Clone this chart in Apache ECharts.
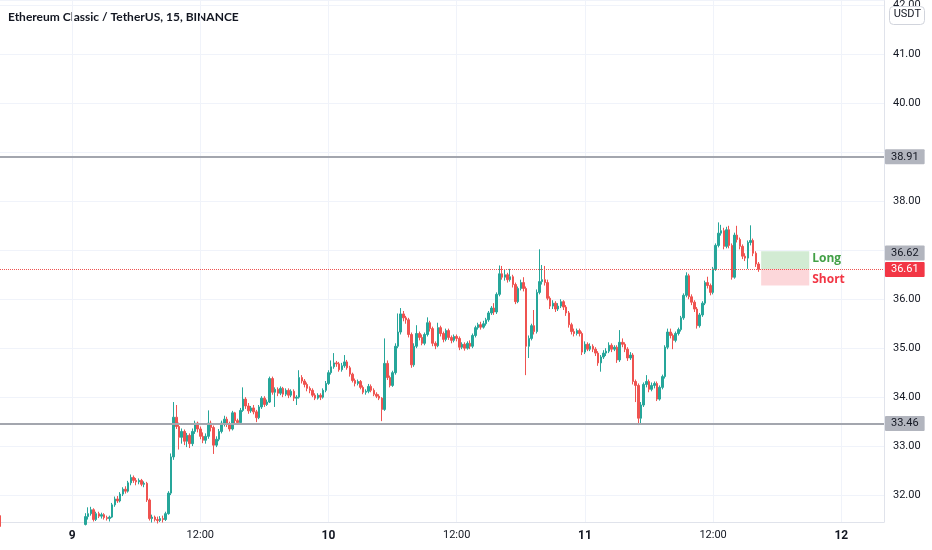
<!DOCTYPE html>
<html>
<head>
<meta charset="utf-8">
<title>ETC / USDT 15</title>
<script src="https://cdn.jsdelivr.net/npm/echarts@6/dist/echarts.min.js"></script>
<style>
  html, body { margin: 0; padding: 0; background: #fff; }
  #chart { width: 932px; height: 550px; }
</style>
</head>
<body>
<div id="chart"></div>
<script>
// 15 分钟K线，从 8 日 17:15 开始
const startDay = 8;
const startMinute = 17 * 60 + 15;
const slotCount = 332; // 右侧留空到 12 日 04:00

// [open, close, low, high]
const candles = [
  [31.58,31.36,31.30,31.60],[31.36,31.30,31.25,31.40],[31.30,31.33,31.26,31.38],[31.33,31.27,31.22,31.36],
  [31.27,31.22,31.18,31.31],[31.22,31.25,31.17,31.29],[31.25,31.19,31.14,31.28],[31.19,31.14,31.10,31.22],
  [31.14,31.18,31.11,31.22],[31.18,31.12,31.08,31.21],[31.12,31.08,31.03,31.16],[31.08,31.13,31.05,31.17],
  [31.13,31.17,31.10,31.21],[31.17,31.11,31.08,31.20],[31.11,31.15,31.07,31.19],[31.15,31.20,31.12,31.24],
  [31.20,31.16,31.13,31.25],[31.16,31.21,31.14,31.26],[31.21,31.26,31.18,31.30],[31.26,31.22,31.19,31.31],
  [31.22,31.18,31.14,31.26],[31.18,31.23,31.16,31.27],[31.23,31.28,31.20,31.33],[31.28,31.25,31.21,31.32],
  [31.25,31.30,31.22,31.35],[31.30,31.27,31.23,31.34],[31.27,31.32,31.25,31.37],[31.32,31.29,31.26,31.36],
  [31.29,31.34,31.27,31.39],[31.34,31.31,31.28,31.38],[31.31,31.36,31.29,31.41],[31.36,31.40,31.33,31.44],
  [31.40,31.56,31.38,31.63],[31.56,31.62,31.50,31.75],[31.62,31.70,31.58,31.76],[31.70,31.50,31.46,31.73],
  [31.50,31.62,31.47,31.66],[31.62,31.57,31.53,31.66],[31.57,31.60,31.52,31.64],[31.60,31.54,31.50,31.63],
  [31.54,31.52,31.48,31.58],[31.52,31.55,31.46,31.58],[31.55,31.80,31.53,31.84],[31.80,31.92,31.76,31.97],
  [31.92,31.88,31.84,31.98],[31.88,32.02,31.85,32.06],[32.02,32.12,31.98,32.16],[32.12,32.08,32.03,32.18],
  [32.08,32.25,32.05,32.29],[32.25,32.36,32.20,32.42],[32.36,32.30,32.25,32.40],[32.30,32.27,32.20,32.35],
  [32.27,32.30,32.22,32.34],[32.30,32.22,32.18,32.33],[32.22,32.24,32.16,32.28],[32.24,31.90,31.86,32.27],
  [31.90,31.52,31.48,31.93],[31.52,31.55,31.44,31.60],[31.55,31.50,31.46,31.58],[31.50,31.48,31.42,31.56],
  [31.48,31.52,31.45,31.57],[31.52,31.50,31.44,31.58],[31.50,31.62,31.47,31.66],[31.62,32.04,31.60,32.08],
  [32.04,32.78,32.00,32.85],[32.78,33.59,32.72,33.90],[33.59,33.40,33.35,33.84],[33.40,33.18,32.93,33.48],
  [33.18,33.30,33.05,33.36],[33.30,33.10,33.02,33.34],[33.10,33.22,32.98,33.27],[33.22,33.05,32.96,33.26],
  [33.05,33.30,33.00,33.36],[33.30,33.47,33.25,33.52],[33.47,33.35,33.28,33.50],[33.35,33.20,33.14,33.40],
  [33.20,33.12,33.06,33.28],[33.12,33.20,33.05,33.26],[33.20,33.47,33.15,33.73],[33.47,33.38,33.30,33.52],
  [33.38,33.02,32.84,33.42],[33.02,33.14,32.98,33.20],[33.14,33.30,33.10,33.35],[33.30,33.47,33.26,33.52],
  [33.47,33.55,33.40,33.62],[33.55,33.45,33.39,33.60],[33.45,33.35,33.30,33.50],[33.35,33.68,33.32,33.72],
  [33.68,33.52,33.46,33.70],[33.52,33.48,33.44,33.56],[33.48,33.73,33.45,33.78],[33.73,33.96,33.70,34.20],
  [33.96,33.82,33.76,34.00],[33.82,33.72,33.66,33.88],[33.72,33.78,33.68,33.82],[33.78,33.70,33.65,33.84],
  [33.70,33.58,33.49,33.74],[33.58,33.80,33.55,33.84],[33.80,33.98,33.76,34.02],[33.98,33.85,33.80,34.02],
  [33.85,33.90,33.82,33.95],[33.90,34.38,33.88,34.42],[34.38,34.10,34.05,34.42],[34.10,34.16,33.80,34.20],
  [34.16,34.08,34.02,34.20],[34.08,34.18,34.04,34.22],[34.18,34.06,34.00,34.21],[34.06,34.14,34.02,34.18],
  [34.14,34.04,33.98,34.18],[34.04,34.12,34.00,34.16],[34.12,33.98,33.92,34.16],[33.98,34.00,33.84,34.04],
  [34.00,34.40,33.97,34.55],[34.40,34.33,34.28,34.45],[34.33,34.26,34.20,34.37],[34.26,34.18,34.12,34.30],
  [34.18,34.14,34.08,34.22],[34.14,34.04,34.00,34.18],[34.04,33.98,33.94,34.08],[33.98,34.04,33.95,34.08],
  [34.04,34.00,33.94,34.08],[34.00,34.14,33.97,34.18],[34.14,34.28,34.10,34.33],[34.28,34.50,34.25,34.55],
  [34.50,34.62,34.46,34.75],[34.62,34.70,34.58,34.90],[34.70,34.68,34.62,34.74],[34.68,34.56,34.52,34.72],
  [34.56,34.64,34.52,34.70],[34.64,34.72,34.60,34.86],[34.72,34.60,34.56,34.76],[34.60,34.47,34.42,34.64],
  [34.47,34.34,34.30,34.50],[34.34,34.28,34.22,34.38],[34.28,34.32,34.24,34.36],[34.32,34.20,34.16,34.35],
  [34.20,34.10,34.06,34.24],[34.10,34.12,34.05,34.16],[34.12,34.22,34.08,34.27],[34.22,34.14,34.10,34.26],
  [34.14,34.06,34.02,34.18],[34.06,34.02,33.98,34.10],[34.02,33.98,33.94,34.06],[33.98,33.75,33.51,34.00],
  [33.75,34.69,33.72,35.20],[34.69,34.40,34.35,34.75],[34.40,34.24,34.20,34.44],[34.24,34.50,34.21,34.54],
  [34.50,35.04,34.46,35.10],[35.04,35.33,35.00,35.71],[35.33,35.70,35.28,35.82],[35.70,35.62,35.55,35.76],
  [35.62,35.58,35.50,35.66],[35.58,35.28,35.22,35.62],[35.28,34.66,34.60,35.32],[34.66,35.04,34.62,35.10],
  [35.04,35.30,35.00,35.47],[35.30,35.22,35.16,35.34],[35.22,35.10,35.06,35.28],[35.10,35.28,35.06,35.32],
  [35.28,35.52,35.24,35.63],[35.52,35.40,35.34,35.56],[35.40,35.10,35.04,35.44],[35.10,35.05,34.98,35.14],
  [35.05,35.42,35.02,35.52],[35.42,35.30,35.24,35.46],[35.30,35.18,35.12,35.34],[35.18,35.36,35.14,35.40],
  [35.36,35.22,35.17,35.40],[35.22,35.16,35.10,35.26],[35.16,35.24,35.12,35.28],[35.24,35.20,35.14,35.28],
  [35.20,35.02,34.96,35.24],[35.02,35.08,34.98,35.12],[35.08,35.00,34.95,35.12],[35.00,35.10,34.97,35.14],
  [35.10,35.04,34.98,35.16],[35.04,35.26,35.00,35.30],[35.26,35.42,35.22,35.46],[35.42,35.48,35.38,35.52],
  [35.48,35.43,35.38,35.54],[35.43,35.50,35.40,35.56],[35.50,35.58,35.46,35.62],[35.58,35.72,35.54,35.76],
  [35.72,35.82,35.68,35.86],[35.82,35.74,35.68,35.92],[35.74,36.10,35.70,36.14],[36.10,36.52,36.06,36.69],
  [36.52,36.45,36.40,36.68],[36.45,36.50,36.38,36.60],[36.50,36.40,36.34,36.54],[36.40,36.46,36.36,36.62],
  [36.46,36.30,36.24,36.50],[36.30,35.95,35.90,36.34],[35.95,36.22,35.92,36.26],[36.22,36.34,36.18,36.40],
  [36.34,36.22,36.16,36.45],[36.22,35.04,34.45,36.26],[35.04,35.20,34.80,35.26],[35.20,35.46,35.16,35.50],
  [35.46,35.34,35.28,35.78],[35.34,36.14,35.30,36.20],[36.14,36.36,36.10,37.02],[36.36,36.40,36.30,36.70],
  [36.40,36.34,36.28,36.68],[36.34,36.02,35.98,36.40],[36.02,35.86,35.80,36.06],[35.86,35.92,35.80,35.98],
  [35.92,35.80,35.74,35.96],[35.80,35.86,35.76,35.92],[35.86,35.95,35.82,36.00],[35.95,35.84,35.78,35.98],
  [35.84,35.72,35.66,35.88],[35.72,35.48,35.42,35.76],[35.48,35.34,35.28,35.52],[35.34,35.30,35.24,35.40],
  [35.30,35.36,35.26,35.40],[35.36,35.30,35.24,35.40],[35.30,34.92,34.86,35.34],[34.92,35.08,34.88,35.14],
  [35.08,34.98,34.94,35.12],[34.98,35.04,34.94,35.10],[35.04,34.98,34.92,35.08],[34.98,34.90,34.84,35.02],
  [34.90,34.70,34.64,34.94],[34.70,34.82,34.52,34.86],[34.82,34.90,34.78,34.96],[34.90,34.94,34.84,35.00],
  [34.94,35.06,34.90,35.12],[35.06,34.98,34.92,35.10],[34.98,35.02,34.94,35.06],[35.02,34.76,34.70,35.06],
  [34.76,35.12,34.72,35.37],[35.12,35.08,35.02,35.20],[35.08,34.98,34.92,35.12],[34.98,34.80,34.74,35.02],
  [34.80,34.86,34.76,34.92],[34.86,34.32,34.26,34.90],[34.32,34.24,33.90,34.36],[34.24,33.57,33.43,34.28],
  [33.57,33.84,33.46,33.90],[33.84,34.26,33.80,34.30],[34.26,34.32,34.20,34.45],[34.32,34.16,34.10,34.36],
  [34.16,34.24,34.12,34.30],[34.24,34.28,34.18,34.32],[34.28,33.96,33.92,34.32],[33.96,34.20,33.93,34.24],
  [34.20,34.42,34.16,34.46],[34.42,35.02,34.38,35.06],[35.02,35.33,34.98,35.40],[35.33,35.26,35.20,35.40],
  [35.26,35.16,34.98,35.30],[35.16,35.30,35.12,35.34],[35.30,35.38,35.26,35.42],[35.38,35.62,35.34,35.66],
  [35.62,36.08,35.58,36.12],[36.08,36.48,36.04,36.55],[36.48,36.05,36.00,36.52],[36.05,35.94,35.88,36.10],
  [35.94,35.80,35.74,35.98],[35.80,35.46,35.40,35.84],[35.46,35.68,35.42,35.72],[35.68,35.92,35.64,35.96],
  [35.92,36.34,35.88,36.38],[36.34,36.28,36.22,36.46],[36.28,36.14,36.08,36.32],[36.14,36.62,36.10,36.66],
  [36.62,37.10,36.58,37.14],[37.10,37.35,37.06,37.57],[37.35,37.40,37.30,37.52],[37.40,37.08,37.02,37.46],
  [37.08,37.42,37.04,37.48],[37.42,37.10,37.04,37.50],[37.10,36.45,36.40,37.14],[36.45,37.31,36.42,37.36],
  [37.31,37.22,37.16,37.50],[37.22,37.08,37.02,37.26],[37.08,36.88,36.82,37.12],[36.88,36.84,36.78,36.94],
  [36.84,37.16,36.62,37.20],[37.16,37.20,37.10,37.51],[37.20,36.94,36.88,37.24],[36.94,36.72,36.66,36.98],
  [36.72,36.61,36.56,36.76]
];

// 水平线与右侧价格标签
const supportLevels = [38.91, 33.46];
const lastPrice = 36.61;
const entryPrice = 36.62;
const longTarget = 36.98;
const shortTarget = 36.28;
const positionSlots = [285, 303]; // 多空框的起止K线位置

// y 轴范围和刻度
const yMin = 31.45;
const yMax = 42.10;
const hiddenTicks = [37, 39];

const UP = '#26a69a';
const DOWN = '#ef5350';
const TEXT = '#131722';
const GRID = '#f0f3fa';
const FONT = 'Roboto, "Liberation Sans", sans-serif';

function pad(n) {
  return String(n).padStart(2, '0');
}

// 生成时间分类
const times = [];
for (let i = 0; i < slotCount; i++) {
  const total = startMinute + i * 15;
  const day = startDay + Math.floor(total / 1440);
  const m = total % 1440;
  times.push(day + ' ' + pad(Math.floor(m / 60)) + ':' + pad(m % 60));
}

function isMajor(index, value) {
  return value.endsWith(' 00:00') || value.endsWith(' 12:00');
}

function badge(value, bg, color, dy) {
  return {
    show: true,
    position: 'end',
    distance: 1,
    offset: [0, dy || 0],
    formatter: value.toFixed(2),
    backgroundColor: bg,
    color: color,
    fontSize: 11,
    fontFamily: FONT,
    padding: [2, 6, 2, 6],
    borderRadius: 1
  };
}

const chart = echarts.init(document.getElementById('chart'), null, { renderer: 'canvas' });

// 入场价只有标签，往上错开一格（先画，避免被压住）
const markLines = [{
  yAxis: entryPrice,
  lineStyle: { color: 'rgba(255,255,255,0)', width: 1, type: 'solid' },
  label: badge(entryPrice, '#b2b5be', TEXT, -16)
}];
supportLevels.forEach(v => markLines.push({
  yAxis: v,
  lineStyle: { color: '#a3a6ae', width: 2, type: 'solid' },
  label: badge(v, '#b2b5be', TEXT)
}));
markLines.push({
  yAxis: lastPrice,
  lineStyle: { color: DOWN, width: 1, type: 'dotted' },
  label: badge(lastPrice, '#f23645', '#ffffff')
});

const option = {
  animation: false,
  backgroundColor: '#ffffff',
  grid: { left: 0, right: 48, top: 0, bottom: 28 },
  xAxis: {
    type: 'category',
    data: times,
    boundaryGap: false,
    axisLine: { lineStyle: { color: '#e0e3eb', width: 1 } },
    axisTick: { show: false },
    axisLabel: {
      interval: isMajor,
      margin: 8,
      fontSize: 11,
      fontFamily: FONT,
      color: TEXT,
      formatter: v => {
        const parts = v.split(' ');
        return parts[1] === '00:00' ? '{d|' + parts[0] + '}' : parts[1];
      },
      rich: { d: { fontWeight: 'bold', fontSize: 12, fontFamily: FONT, color: TEXT } }
    },
    splitLine: { show: true, interval: isMajor, lineStyle: { color: GRID, width: 1 } }
  },
  yAxis: {
    type: 'value',
    position: 'right',
    min: yMin,
    max: yMax,
    minInterval: 1,
    maxInterval: 1,
    splitNumber: 11,
    axisLine: { show: true, lineStyle: { color: '#e0e3eb', width: 1 } },
    axisTick: { show: false },
    axisLabel: {
      margin: 9,
      fontSize: 11,
      fontFamily: FONT,
      color: TEXT,
      showMinLabel: false,
      showMaxLabel: false,
      formatter: v => hiddenTicks.includes(Math.round(v * 100) / 100) ? '' : v.toFixed(2)
    },
    splitLine: { lineStyle: { color: GRID, width: 1 } }
  },
  graphic: [
    {
      type: 'text',
      left: 8,
      top: 11,
      style: {
        text: 'Ethereum Classic / TetherUS, 15, BINANCE',
        fill: TEXT,
        font: 'bold 12px Lato, "Open Sans", sans-serif'
      }
    },
    {
      type: 'rect',
      right: 7,
      top: 6,
      z: 100,
      shape: { width: 35, height: 18, r: 4 },
      style: { fill: '#ffffff', stroke: '#d1d4dc', lineWidth: 1 }
    },
    {
      type: 'text',
      right: 11,
      top: 9,
      z: 101,
      style: { text: 'USDT', fill: TEXT, font: '11px Roboto, sans-serif' }
    }
  ],
  series: [
    {
      type: 'candlestick',
      data: candles,
      clip: true,
      barWidth: 2,
      itemStyle: {
        color: UP,
        color0: DOWN,
        borderColor: UP,
        borderColor0: DOWN,
        borderWidth: 1
      },
      markLine: {
        silent: true,
        symbol: 'none',
        animation: false,
        data: markLines
      },
      markArea: {
        silent: true,
        data: [
          [
            {
              xAxis: times[positionSlots[0]],
              yAxis: longTarget,
              itemStyle: { color: 'rgba(76,175,80,0.25)', borderRadius: 5 },
              label: {
                show: true,
                position: 'right',
                distance: 3,
                offset: [0, -2],
                formatter: 'Long',
                color: '#43a047',
                fontWeight: 'bold',
                fontSize: 12,
                fontFamily: '"Open Sans", sans-serif'
              }
            },
            { xAxis: times[positionSlots[1]], yAxis: entryPrice }
          ],
          [
            {
              xAxis: times[positionSlots[0]],
              yAxis: entryPrice,
              itemStyle: { color: 'rgba(242,54,69,0.2)', borderRadius: 5 },
              label: {
                show: true,
                position: 'right',
                distance: 3,
                offset: [0, 2],
                formatter: 'Short',
                color: '#f23645',
                fontWeight: 'bold',
                fontSize: 12,
                fontFamily: '"Open Sans", sans-serif'
              }
            },
            { xAxis: times[positionSlots[1]], yAxis: shortTarget }
          ]
        ]
      }
    }
  ]
};

chart.setOption(option);
</script>
</body>
</html>
